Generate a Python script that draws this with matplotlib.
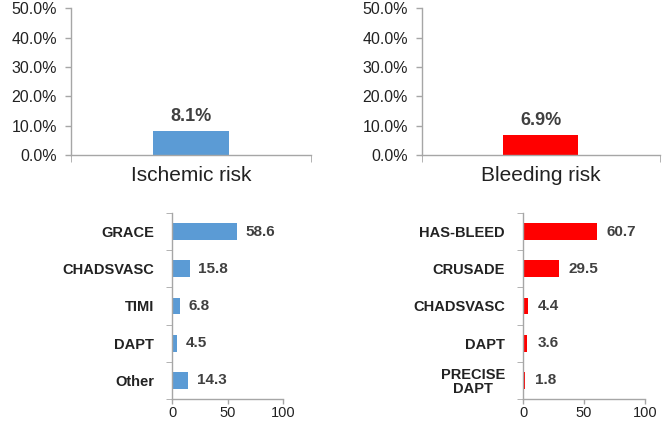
import matplotlib.pyplot as plt
from matplotlib.ticker import FixedLocator

plt.rcParams['font.family'] = ['Liberation Sans', 'DejaVu Sans']

# Overall risk (%)
top_labels = ['Ischemic risk', 'Bleeding risk']
top_values = [8.1, 6.9]

# Score usage (%)
isch_scores = ['GRACE', 'CHADSVASC', 'TIMI', 'DAPT', 'Other']
isch_values = [58.6, 15.8, 6.8, 4.5, 14.3]
bleed_scores = ['HAS-BLEED', 'CRUSADE', 'CHADSVASC', 'DAPT', 'PRECISE\nDAPT']
bleed_values = [60.7, 29.5, 4.4, 3.6, 1.8]

colors = ['#5B9BD5', '#FF0000']
axis_col = '#A6A6A6'
text_col = '#404040'

fig = plt.figure(figsize=(6.68, 4.22), dpi=100)

top_pos = [[0.1063, 0.6327, 0.3593, 0.348], [0.6317, 0.6327, 0.3563, 0.348]]
bot_pos = [[0.2575, 0.0545, 0.1662, 0.4408], [0.783, 0.0545, 0.1826, 0.4408]]


def style(ax):
    for s in ['top', 'right']:
        ax.spines[s].set_visible(False)
    for s in ['left', 'bottom']:
        ax.spines[s].set_color(axis_col)
        ax.spines[s].set_linewidth(1.0)
    ax.tick_params(color=axis_col, width=1.0)


# top panels
for i in range(2):
    ax = fig.add_axes(top_pos[i])
    style(ax)
    ax.bar([0], [top_values[i]], width=0.315, color=colors[i])
    ax.set_xlim(-0.5, 0.5)
    ax.set_ylim(0, 50)
    ax.set_yticks([0, 10, 20, 30, 40, 50])
    ax.set_yticklabels(['%.1f%%' % v for v in [0, 10, 20, 30, 40, 50]],
                       fontsize=11.5, color='#222222')
    ax.set_xticks([0])
    ax.set_xticklabels([top_labels[i]], fontsize=15, color='#222222')
    ax.tick_params(axis='x', length=0, pad=8)
    ax.xaxis.set_minor_locator(FixedLocator([-0.5, 0.5]))
    ax.tick_params(axis='x', which='minor', length=5, color=axis_col)
    ax.tick_params(axis='y', length=4, pad=6)
    ax.text(0, top_values[i] + 2.0, '%.1f%%' % top_values[i], ha='center',
            va='bottom', fontsize=13, fontweight='bold', color=text_col)

# bottom panels
for i, (names, vals) in enumerate([(isch_scores, isch_values),
                                   (bleed_scores, bleed_values)]):
    ax = fig.add_axes(bot_pos[i])
    style(ax)
    y = list(range(len(names)))
    ax.barh(y, vals, height=0.45, color=colors[i])
    ax.set_ylim(len(names) - 0.5, -0.5)
    ax.set_xlim(0, 100)
    ax.set_xticks([0, 50, 100])
    ax.tick_params(axis='x', labelsize=10.5, labelcolor='#222222', length=3.5,
                   pad=1.5)
    ax.set_yticks(y)
    ax.set_yticklabels(names, fontsize=10.5, fontweight='bold', color='#222222',
                       linespacing=1.0, multialignment='center')
    ax.tick_params(axis='y', length=0, pad=13)
    ax.yaxis.set_minor_locator(FixedLocator([k - 0.5 for k in range(len(names) + 1)]))
    ax.tick_params(axis='y', which='minor', length=4, color=axis_col)
    for k, v in enumerate(vals):
        ax.text(v + 8, k, '%.1f' % v, va='center', ha='left', fontsize=11,
                fontweight='bold', color=text_col)

fig.savefig('out.png', dpi=100)
